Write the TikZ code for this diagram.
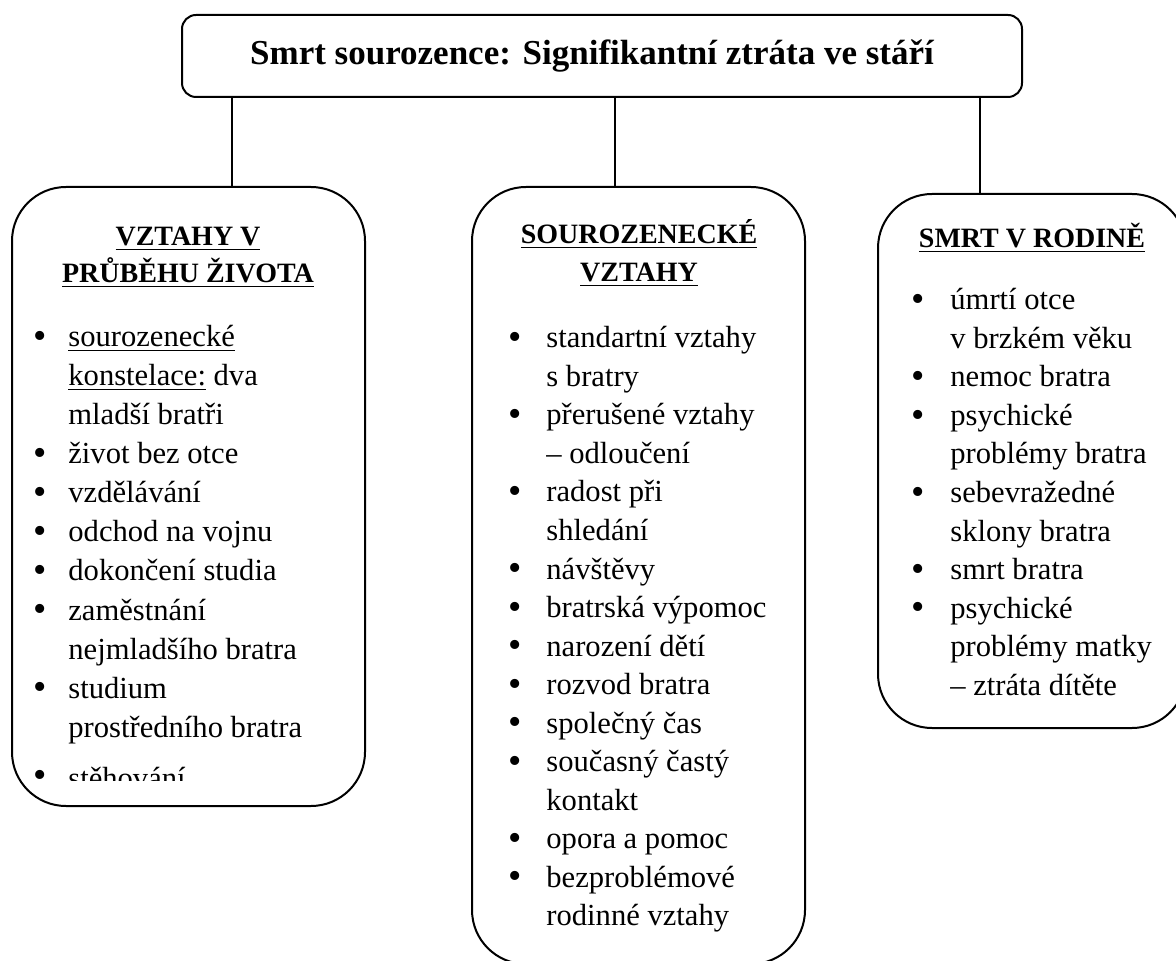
\documentclass[tikz,border=0pt]{standalone}
\usepackage{fontspec}
\setmainfont{Liberation Serif}
\begin{document}
\begin{tikzpicture}[x=0.5pt,y=-0.5pt,
  box/.style={draw,line width=1pt,rounded corners=27pt,inner sep=0pt},
  titlebox/.style={draw,line width=1pt,rounded corners=7pt,inner sep=0pt,minimum width=420pt,minimum height=41pt},
  conn/.style={line width=0.8pt},
  titletxt/.style={inner sep=0pt,anchor=base,font=\bfseries\fontsize{17.5}{20}\selectfont},
  txt/.style={inner sep=0pt,anchor=base west,font=\fontsize{15.3}{18}\selectfont},
  bul/.style={inner sep=0pt,anchor=base,font=\fontsize{19}{20}\selectfont,yshift=-0.8pt},
  head/.style={inner sep=0pt,anchor=base,font=\bfseries\fontsize{14}{16}\selectfont},
]
\useasboundingbox (0,0) rectangle (1176,961);

% title
\node[titlebox] (title) at (602,56) {};
\node[titletxt] (tt) at (592,65) {Smrt sourozence: Signifikantní ztráta ve stáří};

% boxes
\node[box,minimum width=176.5pt,minimum height=309.5pt] (L) at (188.5,496.5) {};
\node[box,minimum width=166.5pt,minimum height=388.5pt] (M) at (638.5,575.5) {};
\node[box,minimum width=154pt,minimum height=267pt] (R) at (1032,461) {};

% connectors
\coordinate (cl) at (232,0);
\coordinate (cm) at (615,0);
\coordinate (cr) at (980,0);
\draw[conn] (title.south -| cl) -- (L.north -| cl);
\draw[conn] (title.south -| cm) -- (M.north -| cm);
\draw[conn] (title.south -| cr) -- (R.north -| cr);

% headings
\node[head] (hl1) at (188,246) {\underline{VZTAHY V}};
\node[head] (hl2) at (188,283) {\underline{PRŮBĚHU ŽIVOTA}};
\node[head] (hm1) at (639,244) {\underline{SOUROZENECKÉ}};
\node[head] (hm2) at (639,282) {\underline{VZTAHY}};
\node[head] (hr1) at (1032,248) {\underline{SMRT V RODINĚ}};

% left list
\foreach \b/\t [count=\i from 0] in {
  1/{\underline{sourozenecké}},
  0/{\underline{konstelace:} dva},
  0/{mladší bratři},
  1/{život bez otce},
  1/{vzdělávání},
  1/{odchod na vojnu},
  1/{dokončení studia},
  1/{zaměstnání},
  0/{nejmladšího bratra},
  1/{studium},
  0/{prostředního bratra}} {
  \pgfmathsetmacro{\yy}{347+39*\i}
  \node[txt] (lt\i) at (68,\yy) {\t};
  \ifnum\b=1 \node[bul] (lb\i) at (40,\yy) {\textbullet}; \fi
}
\begin{scope}
\clip (0,0) rectangle (1176,780);
\node[txt] (lt11) at (68,788) {stěhování};
\end{scope}
\node[bul] (lb11) at (40,786) {\textbullet};

% middle list
\foreach \b/\t [count=\i from 0] in {
  1/{standartní vztahy},
  0/{s bratry},
  1/{přerušené vztahy},
  0/{– odloučení},
  1/{radost při},
  0/{shledání},
  1/{návštěvy},
  1/{bratrská výpomoc},
  1/{narození dětí},
  1/{rozvod bratra},
  1/{společný čas},
  1/{současný častý},
  0/{kontakt},
  1/{opora a pomoc},
  1/{bezproblémové},
  0/{rodinné vztahy}} {
  \pgfmathsetmacro{\yy}{348+38.5*\i}
  \node[txt] (mt\i) at (546,\yy) {\t};
  \ifnum\b=1 \node[bul] (mb\i) at (515,\yy) {\textbullet}; \fi
}

% right list
\foreach \b/\t [count=\i from 0] in {
  1/{úmrtí otce},
  0/{v brzkém věku},
  1/{nemoc bratra},
  1/{psychické},
  0/{problémy bratra},
  1/{sebevražedné},
  0/{sklony bratra},
  1/{smrt bratra},
  1/{psychické},
  0/{problémy matky},
  0/{– ztráta dítěte}} {
  \pgfmathsetmacro{\yy}{310+38.5*\i}
  \node[txt] (rt\i) at (950,\yy) {\t};
  \ifnum\b=1 \node[bul] (rb\i) at (918,\yy) {\textbullet}; \fi
}
\end{tikzpicture}
\end{document}
